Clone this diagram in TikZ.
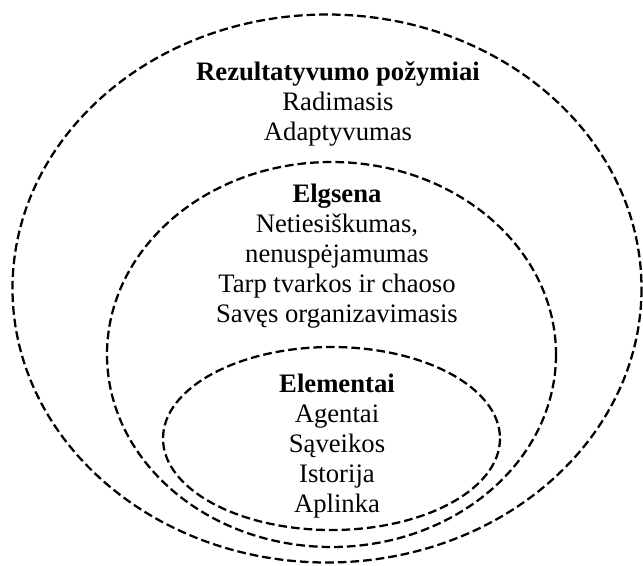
\documentclass[tikz,border=0pt]{standalone}
\usepackage{fontspec}
\setmainfont{Liberation Serif}
\begin{document}
\begin{tikzpicture}[x=0.75pt,y=-0.75pt,
  ring/.style={draw=black,line width=1.7pt,dash pattern=on 6.5pt off 3pt},
  head/.style={anchor=base,inner sep=0pt,font=\fontsize{20pt}{22.5pt}\selectfont\bfseries},
  item/.style={anchor=base,inner sep=0pt,font=\fontsize{20pt}{22.5pt}\selectfont}]
\useasboundingbox (0,0) rectangle (643,565);

% nested dashed rings
\draw[ring] (327,288.5) ellipse [x radius=314.5, y radius=274];
\draw[ring] (331.5,354.5) ellipse [x radius=224.5, y radius=192.5];
\draw[ring] (331.5,438.5) ellipse [x radius=168.5, y radius=91.5];

% outer ring labels
\node[head] (rh) at (338,80) {Rezultatyvumo požymiai};
\node[item] (r1) at (338,110) {Radimasis};
\node[item] (r2) at (338,140) {Adaptyvumas};

% middle ring labels
\node[head] (eh) at (337,202) {Elgsena};
\node[item] (e1) at (337,232) {Netiesiškumas,};
\node[item] (e2) at (337,262) {nenuspėjamumas};
\node[item] (e3) at (337,292) {Tarp tvarkos ir chaoso};
\node[item] (e4) at (337,322) {Savęs organizavimasis};

% inner ring labels
\node[head] (lh) at (337,392) {Elementai};
\node[item] (l1) at (337,422) {Agentai};
\node[item] (l2) at (337,452) {Sąveikos};
\node[item] (l3) at (337,482) {Istorija};
\node[item] (l4) at (337,512) {Aplinka};
\end{tikzpicture}
\end{document}
